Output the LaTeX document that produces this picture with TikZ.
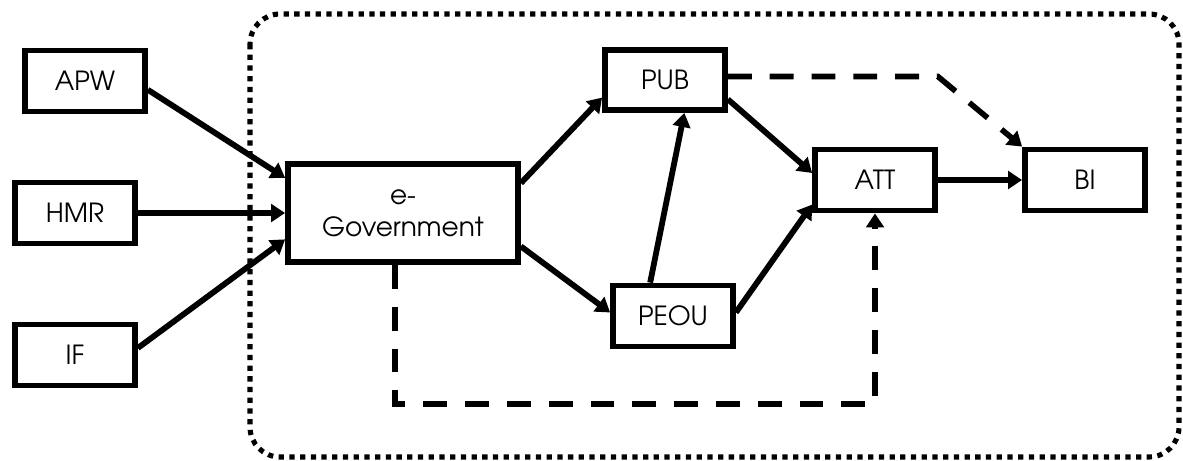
\documentclass[tikz,border=0pt]{standalone}
\usepackage{fontspec}
\setmainfont{TeX Gyre Adventor}
\usetikzlibrary{positioning,calc,arrows.meta}

\begin{document}
\begin{tikzpicture}[x=0.02cm,y=-0.02cm,>={Triangle[length=8pt,width=10pt]},
        box/.style={draw,line width=3.3pt,minimum width=2.4cm,minimum height=1.22cm,font=\fontsize{15}{18}\selectfont},
        link/.style={->,line width=3.3pt},
        dlink/.style={->,line width=3.2pt,dash pattern=on 13.6pt off 10.2pt}]
            \useasboundingbox (0,0) rectangle (1183,460);
            \draw[line width=2.9pt,dash pattern=on 3pt off 3.1pt,rounded corners=0.6cm] (250,14) rectangle (1179,457);
            \node[box] (apw) at (85,81) {APW};
            \node[box] (hmr) at (75,213) {HMR};
            \node[box] (if) at (75,355) {IF};
            \node[box,minimum width=4.6cm,minimum height=1.96cm,align=center] (egov) at (403,213) {e-\\Government};
            \node[box,minimum height=1.2cm] (pub) at (665,80) {PUB};
            \node[box] (peou) at (673,316) {PEOU};
            \node[box] (att) at (875,180) {ATT};
            \node[box] (bi) at (1085,180) {BI};
            \draw[link] ([yshift=-5pt]apw.east) -- ([yshift=20pt]egov.west);
            \draw[link] (hmr.east) -- (hmr.east -| egov.west);
            \draw[link] ([yshift=4pt]if.east) -- ([yshift=-15pt]egov.west);
            \draw[link] ([yshift=17pt]egov.east) -- ([yshift=-10pt]pub.west);
            \draw[link] ([yshift=-19pt]egov.east) -- ([yshift=2pt]peou.west);
            \draw[link] ([xshift=-13pt]peou.north) -- ([xshift=11pt]pub.south);
            \draw[link] ([yshift=-11pt]pub.east) -- ([yshift=4pt]att.west);
            \draw[link] ([yshift=2pt]peou.east) -- ([yshift=-14pt]att.west);
            \draw[link] (att) -- (bi);
            \draw[dlink] ([yshift=2pt]pub.east) -- ([yshift=2pt]pub.east -| att.north east) -- (bi.north west);
            \coordinate (low) at (0,404);
            \draw[dlink] ([xshift=-4.5pt]egov.south) -- ([xshift=-4.5pt]egov.south |- low) -- (att.south |- low) -- (att.south);
        \end{tikzpicture}
\end{document}
